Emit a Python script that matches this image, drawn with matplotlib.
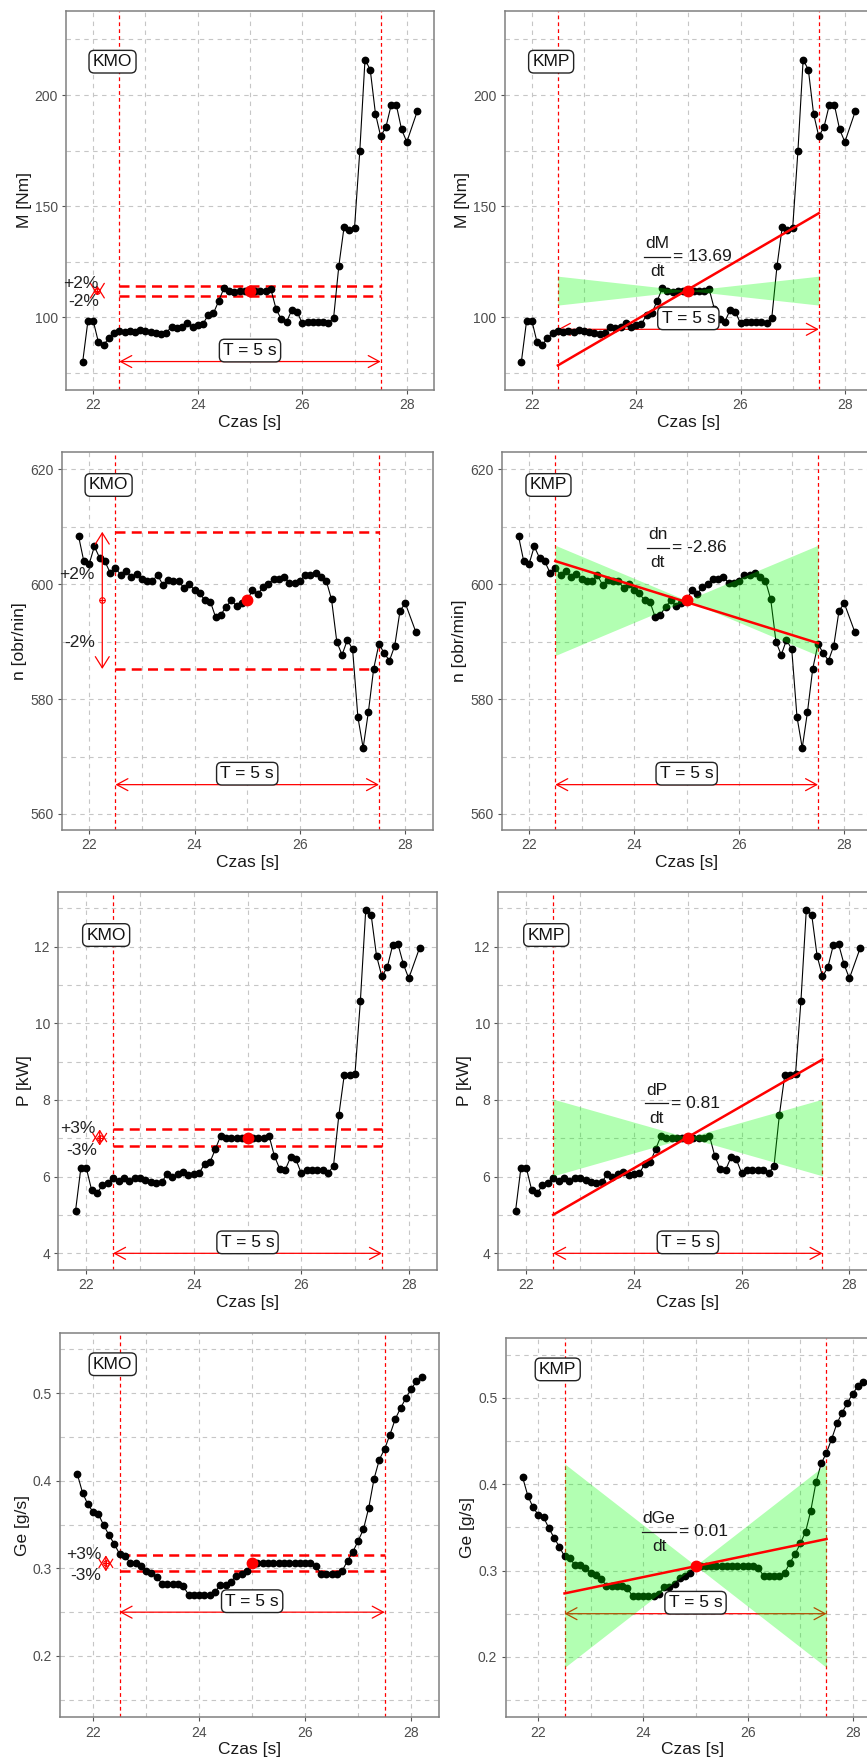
import matplotlib
matplotlib.use("Agg")
import matplotlib.pyplot as plt
from matplotlib.patches import FancyArrowPatch, ArrowStyle

plt.rcParams['font.family'] = ['Liberation Sans', 'DejaVu Sans']

# ---------------- data ----------------
time_s = [21.8, 21.9, 22.0, 22.1, 22.2, 22.3, 22.4,
          22.5, 22.6, 22.7, 22.8, 22.9, 23.0, 23.1, 23.2, 23.3, 23.4,
          23.5, 23.6, 23.7, 23.8, 23.9, 24.0, 24.1, 24.2, 24.3, 24.4,
          24.5, 24.6, 24.7, 24.8, 24.9, 25.0, 25.1, 25.2, 25.3, 25.4,
          25.5, 25.6, 25.7, 25.8, 25.9, 26.0, 26.1, 26.2, 26.3, 26.4,
          26.5, 26.6, 26.7, 26.8, 26.9, 27.0, 27.1, 27.2, 27.3, 27.4,
          27.5, 27.6, 27.7, 27.8, 27.9, 28.0, 28.2]
time_ge = [21.7, 21.8, 21.9, 22.0, 22.1, 22.2, 22.3, 22.4,
           22.5, 22.6, 22.7, 22.8, 22.9, 23.0, 23.1, 23.2, 23.3, 23.4,
           23.5, 23.6, 23.7, 23.8, 23.9, 24.0, 24.1, 24.2, 24.3, 24.4,
           24.5, 24.6, 24.7, 24.8, 24.9, 25.0, 25.1, 25.2, 25.3, 25.4,
           25.5, 25.6, 25.7, 25.8, 25.9, 26.0, 26.1, 26.2, 26.3, 26.4,
           26.5, 26.6, 26.7, 26.8, 26.9, 27.0, 27.1, 27.2, 27.3, 27.4,
           27.5, 27.6, 27.7, 27.8, 27.9, 28.0, 28.1, 28.2]

torque_M = [80.1, 98.5, 98.5, 88.8, 87.6, 90.6, 92.8,
            94.0, 93.3, 94.0, 93.6, 94.3, 94.0, 93.6, 93.1, 92.5, 93.1,
            95.8, 95.4, 95.8, 97.3, 95.8, 96.6, 97.0, 101.0, 101.8, 107.3,
            113.0, 112.0, 111.5, 111.8, 111.8, 111.8, 111.8, 111.8, 111.8, 112.6,
            103.6, 99.1, 98.0, 103.3, 102.5, 97.3, 98.0, 98.0, 98.0, 98.0,
            97.3, 99.9, 123.2, 140.7, 139.5, 140.3, 174.7, 215.9, 211.4, 191.6,
            181.4, 185.6, 195.4, 195.4, 184.5, 178.9, 192.7]
speed_n = [608.4, 604.0, 603.5, 606.6, 604.6, 604.0, 602.0,
           602.9, 601.6, 602.4, 601.3, 601.8, 600.9, 600.5, 600.6, 601.6, 599.9,
           600.7, 600.5, 600.6, 599.3, 600.0, 599.0, 598.4, 597.2, 597.0, 594.3,
           594.7, 596.1, 597.2, 596.2, 596.8, 597.2, 599.0, 598.3, 599.5, 600.1,
           600.9, 601.0, 601.2, 600.3, 600.3, 600.6, 601.6, 601.6, 602.0, 601.3,
           600.6, 597.4, 590.0, 587.7, 590.3, 588.7, 576.9, 571.5, 577.8, 585.3,
           589.6, 588.0, 586.7, 589.3, 595.4, 596.7, 591.7]
power_P = [5.10, 6.23, 6.23, 5.65, 5.57, 5.77, 5.83,
           5.96, 5.89, 5.96, 5.89, 5.97, 5.96, 5.91, 5.85, 5.83, 5.85,
           6.06, 6.00, 6.06, 6.13, 6.04, 6.06, 6.09, 6.33, 6.37, 6.71,
           7.06, 7.02, 7.00, 7.02, 7.00, 7.02, 7.00, 7.02, 7.02, 7.07,
           6.54, 6.20, 6.17, 6.50, 6.45, 6.09, 6.17, 6.17, 6.17, 6.17,
           6.09, 6.28, 7.61, 8.65, 8.65, 8.68, 10.58, 12.96, 12.83, 11.76,
           11.22, 11.46, 12.03, 12.06, 11.54, 11.17, 11.96]
fuel_Ge = [0.408, 0.3864, 0.3731, 0.3644, 0.3617, 0.3492, 0.3379, 0.3277,
           0.3163, 0.3144, 0.3061, 0.3061, 0.3030, 0.2973, 0.2943, 0.2905, 0.2822, 0.2822,
           0.2822, 0.2822, 0.2795, 0.2701, 0.2701, 0.2701, 0.2701, 0.2701, 0.2727, 0.2814,
           0.2814, 0.2848, 0.2917, 0.2936, 0.2973, 0.3057, 0.3057, 0.3057, 0.3057, 0.3057,
           0.3057, 0.3057, 0.3057, 0.3057, 0.3057, 0.3057, 0.3057, 0.3030, 0.2936, 0.2936,
           0.2936, 0.2936, 0.2973, 0.3087, 0.3189, 0.3314, 0.3447, 0.3693, 0.4023, 0.4242,
           0.4364, 0.4527, 0.4705, 0.4830, 0.4943, 0.5049, 0.5133, 0.5189]

ylabels_kmo = ["M [Nm]", "n [obr/nin]", "P [kW]", "Ge [g/s]"]
ylabels_kmp = ["M [Nm]", "n [obr/min]", "P [kW]", "Ge [g/s]"]
deriv_names = ["dM", "dn", "dP", "dGe"]
slope_labels = ["13.69", "-2.86", "0.81", "0.01"]
slopes = [13.69, -2.86, 0.81, 0.0126]
line_centers = [112.6, 596.9, 7.03, 0.305]
centers = [112.0, 597.2, 7.02, 0.3057]
tol_pct = [2, 2, 3, 3]
band_half = [6.5, 9.6, 1.0, 0.118]
t_start, t_mid, t_end = 22.5, 25.0, 27.5
x_major = [22, 24, 26, 28]
x_minor = [23, 25, 27]
y_major = [[100, 150, 200], [560, 580, 600, 620], [4, 6, 8, 10, 12], [0.2, 0.3, 0.4, 0.5]]
y_minor = [[75, 125, 175, 225], [570, 590, 610], [5, 7, 9, 11, 13], [0.15, 0.25, 0.35, 0.45, 0.55]]

series_t = [time_s, time_s, time_s, time_ge]
series_v = [torque_M, speed_n, power_P, fuel_Ge]

# ---------------- layout (pixels) ----------------
W, H = 867, 1763
ylims = [(67.3, 237.8), (557.2, 623.1), (3.565, 13.43), (0.13, 0.569)]
xlims = [(21.48, 28.52), (21.48, 28.52), (21.48, 28.52), (21.375, 28.525)]
boxes_left = [(66, 434, 11, 390), (61.7, 432.7, 451.7, 830),
              (58.3, 436.7, 891.7, 1270), (60, 439, 1332.7, 1717.3)]
boxes_right = [(504.7, 872, 11, 390), (501.7, 871.6, 451.7, 830),
               (498.3, 877.4, 891.7, 1270), (505.6, 880.2, 1338.3, 1717.3)]
arrow_y_kmo = [80.1, 565.1, 4.0, 0.25]
arrow_y_kmp = [94.6, 565.1, 4.0, 0.25]
tag_y = [215.0, 617.3, 12.3, 0.533]
tag_x = 22.37
frac_pos = [(25.0, 127.2), (25.0, 606.4), (24.9, 7.91), (24.8, 0.345)]
pct_x = [22.08, 22.25, 22.25, 22.24]
plus_pos = [(22.1, 115.0), (22.11, 601.7), (22.18, 7.26), (22.16, 0.3155)]
minus_pos = [(22.12, 107.0), (22.11, 589.8), (22.2, 6.67), (22.16, 0.2917)]

TXT = '#1a1a1a'
fig = plt.figure(figsize=(W / 100, H / 100), dpi=100)
renderer = fig.canvas.get_renderer()


def add_ax(box):
    l, r, t, b = box
    return fig.add_axes([l / W, 1 - b / H, (r - l) / W, (b - t) / H])


def style(ax, i, ylabel):
    ax.set_xlim(*xlims[i])
    ax.set_ylim(*ylims[i])
    ax.set_xticks(x_major)
    ax.set_xticks(x_minor, minor=True)
    ax.set_yticks(y_major[i])
    ax.set_yticks(y_minor[i], minor=True)
    ax.grid(which='both', color='#c6c6c6', lw=0.8, ls=(0, (4, 4)))
    ax.set_axisbelow(True)
    ax.tick_params(which='major', length=3, width=0.8, color='#555555',
                   labelsize=10, labelcolor='#4d4d4d', pad=3)
    ax.tick_params(which='minor', length=0)
    for s in ax.spines.values():
        s.set_color('#808080')
        s.set_linewidth(1.1)
    ax.set_xlabel('Czas [s]', fontsize=12.5, color=TXT, labelpad=2)
    ax.set_ylabel(ylabel, fontsize=12.5, color=TXT, labelpad=2)


def dbl_arrow(ax, p1, p2, z=2.6, hl=8, hw=4.3):
    a = FancyArrowPatch(p1, p2, arrowstyle=ArrowStyle('<->', head_length=hl, head_width=hw),
                        mutation_scale=1, color='red', lw=0.9, shrinkA=0, shrinkB=0, zorder=z)
    ax.add_patch(a)


box_kw = dict(boxstyle='round,pad=0.22,rounding_size=0.3', fc='white', ec='#222222', lw=1.0)


def text_width(ax, s, fs):
    t = ax.text(0, 0, s, fontsize=fs)
    w = t.get_window_extent(renderer).width
    t.remove()
    return w


def frac_label(ax, fx, fy, num, rhs, fs=12.5):
    wn = text_width(ax, num, fs)
    wd = text_width(ax, 'dt', fs)
    wf = max(wn, wd) + 2
    wr = text_width(ax, rhs, fs)
    gap = 3
    total = wf + gap + wr
    cx, cy = ax.transData.transform((fx, fy))
    left = cx - total / 2
    inv = ax.transData.inverted()
    fcx = left + wf / 2

    def d(px, py):
        return inv.transform((px, py))

    ax.text(*d(fcx, cy + 13), num, ha='center', va='center', fontsize=fs, color=TXT, zorder=7)
    ax.text(*d(fcx, cy - 15), 'dt', ha='center', va='center', fontsize=fs, color=TXT, zorder=7)
    p0, p1 = d(left, cy), d(left + wf, cy)
    ax.plot([p0[0], p1[0]], [p0[1], p1[1]], color=TXT, lw=0.9, zorder=7)
    ax.text(*d(left + wf + gap, cy), rhs, ha='left', va='center', fontsize=fs, color=TXT, zorder=7)


def common(ax, i, arrow_y, tag):
    t, v = series_t[i], series_v[i]
    for xv in (t_start, t_end):
        ax.axvline(xv, color='red', lw=0.9, ls=(0, (3, 2.5)), zorder=2)
    dbl_arrow(ax, (t_start, arrow_y), (t_end, arrow_y), z=2.6)
    ax.plot(t, v, '-', color='black', lw=0.8, zorder=3)
    ax.plot(t, v, 'o', color='black', ms=4.6, zorder=3)
    ax.annotate('T = 5 s', xy=(t_mid, arrow_y), xytext=(0, 2.5), textcoords='offset points',
                ha='center', va='bottom', fontsize=12.5, color='#111111', bbox=box_kw, zorder=8)
    ax.text(tag_x, tag_y[i], tag, ha='center', va='center', fontsize=12.5,
            color='#111111', bbox=box_kw, zorder=8)


for i in range(4):
    # ---- KMO ----
    ax = add_ax(boxes_left[i])
    style(ax, i, ylabels_kmo[i])
    common(ax, i, arrow_y_kmo[i], 'KMO')
    c = centers[i]
    p = tol_pct[i] / 100.0
    ax.hlines([c * (1 + p), c * (1 - p)], t_start, t_end, colors='red', lw=1.8,
              linestyles=[(0, (4, 2.5))], zorder=2.5)
    ax.plot(t_mid, c, 'o', color='red', ms=7.5, zorder=6)
    dbl_arrow(ax, (pct_x[i], c * (1 - p)), (pct_x[i], c * (1 + p)), z=6, hl=8, hw=5)
    ax.plot(pct_x[i], c, 'o', mfc='none', mec='red', mew=0.8, ms=4, zorder=6, clip_on=False)
    ax.plot(pct_x[i], c, '+', color='red', mew=0.8, ms=4, zorder=6, clip_on=False)
    ax.text(*plus_pos[i], f'+{tol_pct[i]}%', ha='right', va='center', fontsize=12.5,
            color='#222222', zorder=7)
    ax.text(*minus_pos[i], f'-{tol_pct[i]}%', ha='right', va='center', fontsize=12.5,
            color='#222222', zorder=7)

    # ---- KMP ----
    ax = add_ax(boxes_right[i])
    style(ax, i, ylabels_kmp[i])
    common(ax, i, arrow_y_kmp[i], 'KMP')
    h = band_half[i]
    ax.fill_between([t_start, t_mid, t_end], [c + h, c, c + h], [c - h, c, c - h],
                    color='#00ff00', alpha=0.3, lw=0, zorder=4)
    lc, s = line_centers[i], slopes[i]
    ax.plot([t_start, t_end], [lc + s * (t_start - t_mid), lc + s * (t_end - t_mid)],
            color='red', lw=1.8, zorder=5)
    ax.plot(t_mid, c, 'o', color='red', ms=7.5, zorder=6)
    fx, fy = frac_pos[i]
    frac_label(ax, fx, fy, deriv_names[i], f'= {slope_labels[i]}')

fig.savefig('out.png', dpi=100)
